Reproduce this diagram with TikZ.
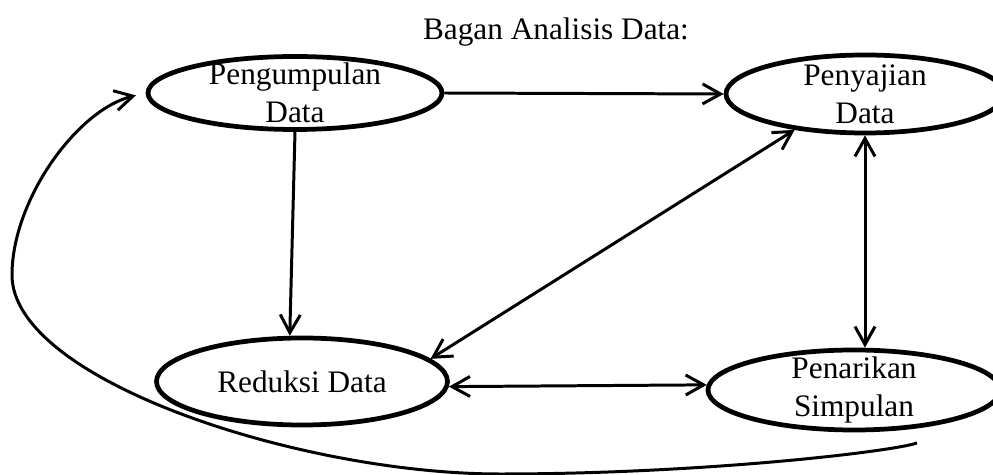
\documentclass[tikz,border=0pt]{standalone}
\usepackage{fontspec}
\setmainfont{Liberation Serif}
\usepackage{tikz}
\usetikzlibrary{calc,arrows.meta,shapes.geometric}

\begin{document}
\begin{tikzpicture}[>={Straight Barb[length=3.6mm,width=4mm]},
	proses/.style={ellipse, draw, line width=2.7pt, inner sep=0pt},
	teks/.style={align=center, inner sep=0pt, font=\fontsize{17.8}{21.6}\selectfont},
	panah/.style={line width=1.7pt}]
	
	% frame of the picture
	\useasboundingbox (0,0) rectangle (19.86,9.5);
	\clip (0,0) rectangle (19.86,9.5);
	
	% Title
	\node[teks, anchor=base] (judul) at (11.12,8.70) {Bagan Analisis Data:};
	
	% =========================================================
	% Ellipses
	% =========================================================
	\node[proses, minimum width=5.88cm, minimum height=1.46cm] (pengumpulan) at (5.90,7.64) {};
	\node[proses, minimum width=5.56cm, minimum height=1.56cm] (penyajian) at (17.30,7.62) {};
	\node[proses, minimum width=5.82cm, minimum height=1.74cm] (reduksi) at (6.04,1.87) {};
	\node[proses, minimum width=5.84cm, minimum height=1.60cm] (penarikan) at (17.08,1.70) {};
	
	% Labels
	\node[teks] (pengumpulan-t) at (pengumpulan) {Pengumpulan\\Data};
	\node[teks] (penyajian-t) at (penyajian) {Penyajian\\Data};
	\node[teks] (reduksi-t) at (reduksi) {Reduksi Data};
	\node[teks] (penarikan-t) at (penarikan) {Penarikan\\Simpulan};
	
	% =========================================================
	% Arrows
	% =========================================================
	\draw[panah, ->] (pengumpulan.east) -- (penyajian.west);
	\draw[panah, ->] (pengumpulan.south) -- (reduksi.105);
	\draw[panah, <->] (reduksi.10) -- (penyajian.207);
	\draw[panah, <->] (penyajian.south) -- (penyajian.south |- penarikan.north);
	\draw[panah, <->] (reduksi.-2) -- (penarikan.178);
	
	% Feedback curve back to the start
	\coordinate (balik) at (18.34,0.64);
	\draw[panah, ->, shorten >=2mm] (balik)
		.. controls (17.80,0.46) and (14.00,0.02) .. (10.00,0.02)
		.. controls (6.00,0.02) and (0.24,1.90) .. (0.24,4.00)
		.. controls (0.24,5.50) and (1.54,7.30) .. (pengumpulan.west);
	
\end{tikzpicture}
\end{document}
